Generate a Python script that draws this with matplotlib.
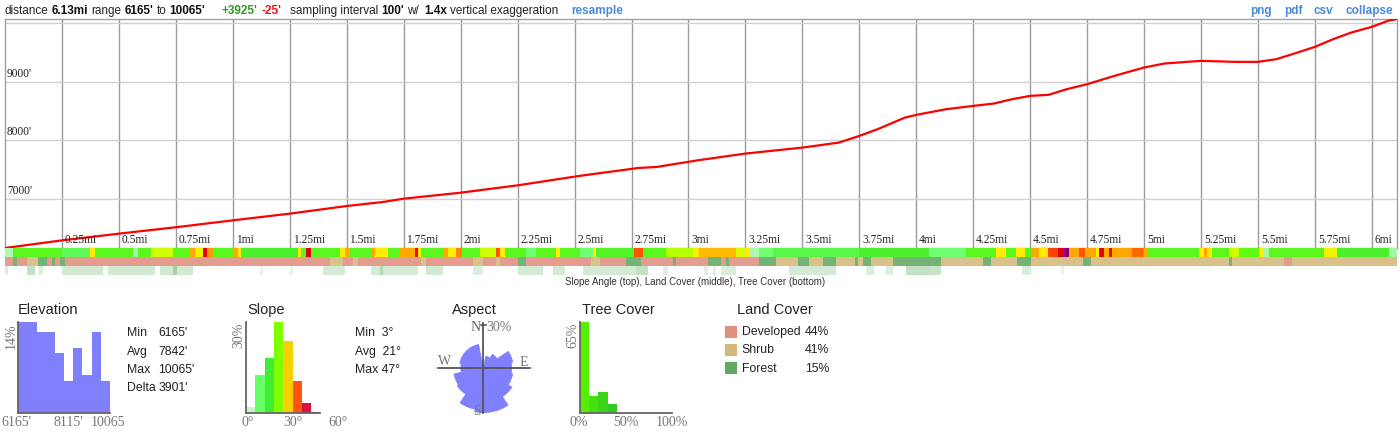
import numpy as np
import matplotlib
matplotlib.use('Agg')
import matplotlib.pyplot as plt
from matplotlib.colors import LinearSegmentedColormap, Normalize
from matplotlib.patches import Rectangle
from matplotlib.lines import Line2D

plt.rcParams['font.family'] = ['Liberation Sans', 'DejaVu Sans']
SERIF = ['Liberation Serif', 'DejaVu Serif']

# ---- elevation profile (miles, feet)
dist_mi = [0, 0.25, 0.5, 0.76, 1.0, 1.25, 1.5, 1.66, 1.75, 2.0, 2.25, 2.52, 2.78, 2.86,
           3.04, 3.25, 3.5, 3.66, 3.75, 3.83, 3.95, 4.0, 4.13, 4.25, 4.34, 4.42, 4.5,
           4.58, 4.66, 4.75, 4.87, 5.0, 5.09, 5.25, 5.4, 5.5, 5.58, 5.66, 5.75, 5.83,
           5.91, 6.0, 6.07, 6.11]
elev_ft = [6165, 6295, 6409, 6523, 6636, 6750, 6880, 6949, 7005, 7107, 7232, 7392, 7528, 7545,
           7658, 7773, 7875, 7960, 8074, 8188, 8386, 8432, 8528, 8585, 8625, 8699, 8756,
           8773, 8869, 8955, 9097, 9239, 9307, 9352, 9335, 9335, 9381, 9477, 9591, 9722,
           9835, 9932, 10034, 10065]
total_mi = 6.11

tick_mi = [0.25, 0.5, 0.75, 1, 1.25, 1.5, 1.75, 2, 2.25, 2.5, 2.75, 3, 3.25, 3.5, 3.75,
           4, 4.25, 4.5, 4.75, 5, 5.25, 5.5, 5.75, 6]
tick_lbl = ['0.25mi', '0.5mi', '0.75mi', '1mi', '1.25mi', '1.5mi', '1.75mi', '2mi', '2.25mi',
            '2.5mi', '2.75mi', '3mi', '3.25mi', '3.5mi', '3.75mi', '4mi', '4.25mi', '4.5mi',
            '4.75mi', '5mi', '5.25mi', '5.5mi', '5.75mi', '6mi']
elev_ticks = [7000, 8000, 9000, 10000]
elev_lbl = ["7000'", "8000'", "9000'", ""]

# ---- slope strip: run start (mi) and slope (deg)
slope_start = [0.000, 0.037, 0.249, 0.373, 0.395, 0.563, 0.585, 0.643, 0.738, 0.811, 0.833,
               0.870, 0.885, 0.914, 1.001, 1.023, 1.038, 1.287, 1.301, 1.323, 1.341, 1.469,
               1.491, 1.513, 1.608, 1.623, 1.681, 1.732, 1.798, 1.813, 1.827, 1.922, 1.944,
               1.981, 2.005, 2.083, 2.156, 2.171, 2.193, 2.288, 2.332, 2.420, 2.434, 2.522,
               2.580, 2.595, 2.763, 2.800, 2.902, 3.019, 3.048, 3.209, 3.253, 3.268, 3.311,
               3.370, 3.750, 4.057, 4.218, 4.349, 4.393, 4.436, 4.478, 4.503, 4.539, 4.576,
               4.620, 4.649, 4.671, 4.715, 4.740, 4.788, 4.803, 4.825, 4.846, 4.860, 4.948,
               4.993, 5.015, 5.241, 5.263, 5.278, 5.300, 5.373, 5.417, 5.504, 5.526, 5.548,
               5.789, 5.848, 6.075]
slope_deg = [5, 17, 12, 27, 17, 6, 17, 24, 17, 31, 26,
             41, 32, 17, 31, 27, 15, 27, 17, 41, 17, 27,
             31, 17, 31, 27, 17, 31, 40, 27, 17, 31, 27,
             33, 17, 24, 36, 27, 17, 10, 17, 27, 17, 10,
             27, 16, 36, 17, 23, 27, 30, 25, 27, 5, 10,
             13, 15, 10, 17, 27, 17, 27, 17, 31, 27, 37,
             41, 46, 31, 36, 31, 27, 41, 31, 40, 31, 35,
             31, 17, 27, 31, 27, 17, 24, 18, 27, 6, 17,
             26, 15, 6]

# ---- land cover strip: run start (mi) and class
land_start = [0.000, 0.037, 0.051, 0.095, 0.146, 0.183, 0.205, 0.219, 0.241, 0.263, 1.425,
              1.484, 1.528, 1.550, 1.827, 1.849, 2.054, 2.098, 2.156, 2.171, 2.251, 2.288,
              2.573, 2.610, 2.727, 2.792, 2.931, 2.946, 3.085, 3.143, 3.165, 3.180, 3.311,
              3.384, 3.480, 3.531, 3.589, 3.649, 3.729, 3.744, 3.766, 3.802, 3.898, 4.108,
              4.291, 4.327, 4.444, 4.503, 4.730, 4.766, 5.373, 5.387, 5.614, 5.651]
land_cls = ['Developed', 'Forest', 'Developed', 'Shrub', 'Forest', 'Developed', 'Forest',
            'Developed', 'Forest', 'Developed', 'Shrub', 'Developed', 'Shrub', 'Developed',
            'Shrub', 'Developed', 'Shrub', 'Developed', 'Shrub', 'Developed', 'Forest',
            'Developed', 'Shrub', 'Developed', 'Forest', 'Developed', 'Forest', 'Developed',
            'Forest', 'Developed', 'Forest', 'Developed', 'Forest', 'Shrub', 'Forest', 'Shrub',
            'Forest', 'Shrub', 'Forest', 'Shrub', 'Forest', 'Shrub', 'Forest', 'Shrub',
            'Forest', 'Shrub', 'Forest', 'Shrub', 'Forest', 'Shrub', 'Forest', 'Shrub',
            'Developed', 'Shrub']

# ---- tree cover strip: (start, end, percent)
tree_start = [0.000, 0.095, 0.151, 0.249, 0.453, 0.680, 0.738, 0.753, 1.118, 1.250, 1.396,
              1.608, 1.645, 1.659, 1.849, 2.054, 2.251, 2.405, 2.537, 2.770, 2.887, 3.070,
              3.107, 3.143, 3.443, 3.779, 3.867, 3.955, 4.057, 4.466, 4.634]
tree_end = [0.015, 0.132, 0.165, 0.431, 0.658, 0.738, 0.753, 0.826, 1.133, 1.265, 1.491,
            1.645, 1.659, 1.813, 1.922, 2.098, 2.361, 2.456, 2.770, 2.821, 2.909, 3.085,
            3.121, 3.209, 3.649, 3.816, 3.896, 4.057, 4.108, 4.503, 4.649]
tree_pct = [12, 20, 12, 15, 15, 15, 30, 15, 8, 8, 14,
            14, 25, 14, 15, 12, 14, 14, 14, 20, 10, 10,
            10, 12, 14, 12, 12, 20, 18, 12, 8]

# ---- histograms
elev_bins = [6165, 6555, 6945, 7335, 7725, 8115, 8505, 8895, 9285, 9675, 10065]
elev_hist = [14, 14, 12.5, 12.5, 9.3, 4.9, 10, 5.9, 12.5, 4.9]
slope_bins = [0, 6, 12, 18, 24, 30, 36, 42, 48]
slope_hist = [2.0, 12.6, 18.2, 30, 24, 10.5, 3.4, 0.3]
slope_cols = ['#c4f5c4', '#66ff66', '#3fee33', '#80ff00', '#f8d000', '#ff5511', '#dd1140', '#550044']
tree_bins = [0, 10, 20, 30, 40]
tree_hist = [65, 12.6, 15, 6.7]
tree_cols = ['#55ee00', '#45e010', '#3bd41a', '#33c822']
aspect_dir = [0, 22.5, 45, 67.5, 90, 112.5, 135, 157.5, 180, 202.5, 225, 247.5, 270,
              292.5, 315, 337.5]
aspect_pct = [2, 8, 11, 20, 19, 20, 23, 30, 30, 28, 21, 20, 15, 16, 16, 16]
land_names = ['Developed', 'Shrub', 'Forest']
land_pct = [44, 41, 15]
land_colors = {'Developed': '#e0907f', 'Shrub': '#d4b97c', 'Forest': '#62a862'}

W, H = 1400, 435
def fx(x):
    return x / W
def fy(y):
    return 1 - y / H
def box(l, t, r, b):
    return [fx(l), fy(b), (r - l) / W, (b - t) / H]

fig = plt.figure(figsize=(14, 4.35), dpi=100)
renderer = fig.canvas.get_renderer()

# ---- header line
HDR = 8.5
def seq(pieces, x0, y=11, gap=3.2):
    x = x0
    for s, bold, col in pieces:
        t = fig.text(fx(x), fy(y), s, fontsize=HDR, fontweight='bold' if bold else 'normal',
                     color=col, va='center', ha='left')
        x += t.get_window_extent(renderer=renderer).width + gap

seq([('distance', 0, '#222'), ('6.13mi', 1, '#111'), ('range', 0, '#222'),
     ("6165'", 1, '#111'), ('to', 0, '#222'), ("10065'", 1, '#111')], 4.5)
seq([("+3925'", 1, '#2f9a1f'), ("-25'", 1, '#ee1111')], 222)
seq([('sampling interval', 0, '#222'), ("100'", 1, '#111'), ('w/', 0, '#222')], 290)
seq([('1.4x', 1, '#111'), ('vertical exaggeration', 0, '#222')], 424)
blue = '#4a8ad8'
fig.text(fx(571), fy(11), 'resample', fontsize=HDR, fontweight='bold', color=blue, va='center')
for s, x in [('png', 1250), ('pdf', 1284), ('csv', 1314), ('collapse', 1346)]:
    fig.text(fx(x), fy(11), s, fontsize=HDR, fontweight='bold', color=blue, va='center')

# ---- main profile
ax = fig.add_axes(box(5, 20, 1397, 249))
ax.plot(dist_mi, elev_ft, color='#ff0000', lw=1.6, zorder=3)
ax.set_xlim(0, total_mi)
ax.set_ylim(6165, 10065)
ax.set_xticks(tick_mi)
ax.set_yticks(elev_ticks)
ax.tick_params(length=0, labelbottom=False, labelleft=False)
ax.grid(axis='x', color='#9a9a9a', lw=1.0)
ax.grid(axis='y', color='#d0d0d0', lw=1.0)
for s in ax.spines.values():
    s.set_color('#a0a0a0')
    s.set_linewidth(1.0)
for t, l in zip(tick_mi, tick_lbl):
    ax.annotate(l, (t, 6165), xytext=(2, 2), textcoords='offset points', fontsize=8.3,
                family=SERIF, color='#222', ha='left', va='bottom')
for t, l in zip(elev_ticks, elev_lbl):
    ax.annotate(l, (0, t), xytext=(1.5, 2), textcoords='offset points', fontsize=8.3,
                family=SERIF, color='#222', ha='left', va='bottom')

# ---- strips
axs = fig.add_axes(box(5, 249, 1397, 276))
axs.set_xlim(0, total_mi)
axs.set_ylim(3, 0)
axs.axis('off')
cmap = LinearSegmentedColormap.from_list('slope', [
    (0 / 48, '#d4f8d4'), (6 / 48, '#a6f7a6'), (10 / 48, '#70ff70'), (15 / 48, '#4cf030'),
    (20 / 48, '#70ff00'), (24 / 48, '#ccff00'), (27 / 48, '#ffee00'), (31 / 48, '#ffaa00'),
    (36 / 48, '#ff5500'), (41 / 48, '#e00010'), (46 / 48, '#880077'), (1, '#770066')])
norm = Normalize(0, 48)
s_end = slope_start[1:] + [total_mi]
axs.barh(0, np.subtract(s_end, slope_start), left=slope_start, height=1, align='edge',
         color=[cmap(norm(d)) for d in slope_deg], linewidth=0)
l_end = land_start[1:] + [total_mi]
axs.barh(1, np.subtract(l_end, land_start), left=land_start, height=1, align='edge',
         color=[land_colors[c] for c in land_cls], alpha=0.88, linewidth=0)
tcmap = LinearSegmentedColormap.from_list('tree', ['#ffffff', '#3a9e3a'])
axs.barh(2, np.subtract(tree_end, tree_start), left=tree_start, height=1, align='edge',
         color=[tcmap(p / 65) for p in tree_pct], linewidth=0)
fig.text(fx(695), fy(282), 'Slope Angle (top), Land Cover (middle), Tree Cover (bottom)',
         fontsize=7, color='#333', ha='center', va='center')

# ---- bottom panels
STAT = 8.8
def title(x, s):
    fig.text(fx(x), fy(310), s, fontsize=10.5, color='#222', ha='left', va='center')

def hist_axes(l, r, xlim, ylim):
    a = fig.add_axes(box(l, 323.3, r, 414.3))
    a.set_xlim(*xlim)
    a.set_ylim(*ylim)
    a.set_xticks([])
    a.set_yticks([])
    for k in ['top', 'right']:
        a.spines[k].set_visible(False)
    for k in ['left', 'bottom']:
        a.spines[k].set_color('#666')
        a.spines[k].set_linewidth(1.3)
    return a

def lab(x, y, s, rot=0, va='center'):
    fig.text(fx(x), fy(y), s, fontsize=10, family=SERIF, color='#777', ha='center',
             va=va, rotation=rot)

# elevation
title(18, 'Elevation')
ae = hist_axes(18.3, 110, (elev_bins[0], elev_bins[-1]), (0, 14))
ae.bar(elev_bins[:-1], elev_hist, width=np.diff(elev_bins), align='edge', color='#8080ff', linewidth=0)
lab(16.7, 423, "6165'")
lab(68, 423, "8115'")
lab(107.7, 423, '10065')
lab(11.7, 323, '14%', rot=90, va='top')
for i, (k, v) in enumerate([('Min', "6165'"), ('Avg', "7842'"), ('Max', "10065'"), ('Delta', "3901'")]):
    y = [332.7, 351.7, 370, 387.7][i]
    fig.text(fx(127), fy(y), k, fontsize=STAT, color='#222', va='center')
    fig.text(fx(158.5), fy(y), v, fontsize=STAT, color='#222', va='center')

# slope
title(247, 'Slope')
asl = hist_axes(246, 339, (0, 60), (0, 30))
asl.bar(slope_bins[:-1], slope_hist, width=6, align='edge', color=slope_cols, linewidth=0)
asl.spines['bottom'].set_bounds(0, 48)
lab(247.5, 423, '0°')
lab(293, 423, '30°')
lab(338, 423, '60°')
lab(239, 323, '30%', rot=90, va='top')
for s, y in [('Min  3°', 332.7), ('Avg  21°', 351.7), ('Max 47°', 370)]:
    fig.text(fx(355), fy(y), s, fontsize=STAT, color='#222', va='center')

# aspect rose
title(452, 'Aspect')
ar = fig.add_axes(box(438.3, 324, 528.3, 414), projection='polar')
ar.set_theta_zero_location('N')
ar.set_theta_direction(-1)
ar.bar(np.deg2rad(aspect_dir), aspect_pct, width=np.deg2rad(22.5), color='#8080ff',
       edgecolor='#8080ff', linewidth=0.5)
ar.set_ylim(0, 30)
ar.set_axis_off()
for th, r in [(0, 30), (np.pi, 30), (np.pi / 2, 31), (3 * np.pi / 2, 30)]:
    ar.plot([th, th], [0, r], color='#555', lw=1.3, clip_on=False)
fig.add_artist(Line2D([fx(480.5), fx(486)], [fy(325.5), fy(325.5)], color='#555', lw=1.2))
fig.text(fx(481), fy(328), 'N', fontsize=10, family=SERIF, color='#666', ha='right', va='center')
fig.text(fx(486), fy(328), '30%', fontsize=10, family=SERIF, color='#777', ha='left', va='center')
lab(445, 361.7, 'W')
lab(524, 362.7, 'E')
lab(476.7, 411.7, 'S')

# tree cover
title(581.7, 'Tree Cover')
at = hist_axes(580, 672, (0, 100), (0, 65))
at.bar(tree_bins[:-1], tree_hist, width=10, align='edge', color=tree_cols, linewidth=0)
lab(579, 423, '0%')
lab(626, 423, '50%')
lab(671.7, 423, '100%')
lab(572.5, 323, '65%', rot=90, va='top')

# land cover legend
title(736.7, 'Land Cover')
for i, (n, p) in enumerate(zip(land_names, land_pct)):
    top = [326.7, 345, 363.3][i]
    fig.add_artist(Rectangle((fx(725), fy(top + 11)), 11 / W, 11 / H, transform=fig.transFigure,
                             facecolor=land_colors[n], edgecolor=land_colors[n], lw=0.8))
    fig.text(fx(741.7), fy(top + 5.5), n, fontsize=STAT, color='#222', va='center')
    fig.text(fx(829), fy(top + 5.5), '%d%%' % p, fontsize=STAT, color='#222', va='center', ha='right')

fig.savefig('out.png', dpi=100)
